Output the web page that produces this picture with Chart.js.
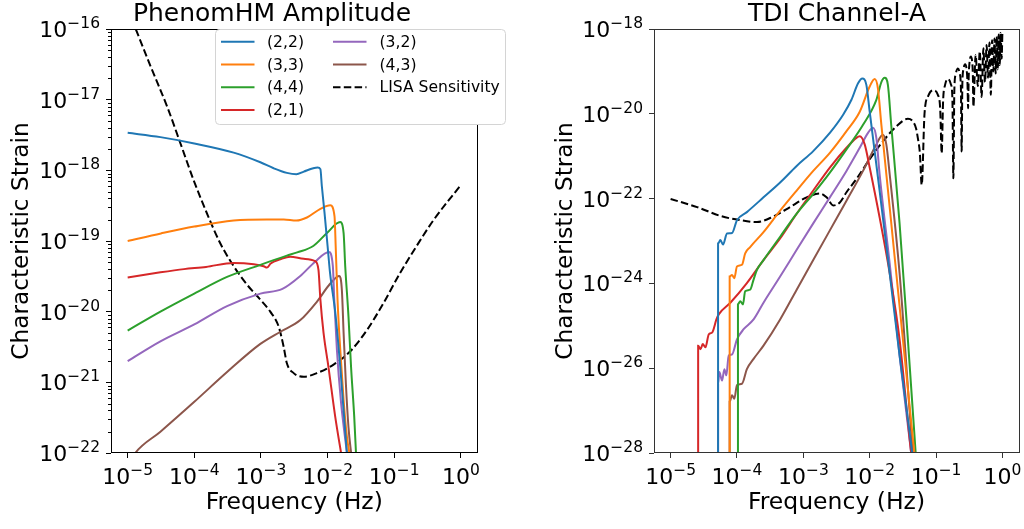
<!DOCTYPE html>
<html>
<head>
<meta charset="utf-8">
<script src="https://cdn.jsdelivr.net/npm/chart.js@4.4.1/dist/chart.umd.min.js"></script>
<style>
  html, body { margin: 0; padding: 0; background: #fff; }
  #wrap { position: relative; width: 1024px; height: 529px; }
  canvas { position: absolute; top: 0; }
</style>
</head>
<body>
<div id="wrap">
  <canvas id="amp" width="512" height="529" style="left:0"></canvas>
  <canvas id="tdi" width="512" height="529" style="left:512px"></canvas>
</div>
<script>
// ---- axis ticks ----
const freqTicks = [1e-5, 1e-4, 1e-3, 1e-2, 1e-1, 1];
const ampStrainTicks = [1e-22, 1e-21, 1e-20, 1e-19, 1e-18, 1e-17, 1e-16];
const tdiStrainTicks = [1e-28, 1e-26, 1e-24, 1e-22, 1e-20, 1e-18];
const minorMults = [2, 3, 4, 5, 6, 7, 8, 9];

const modeLabels = ['(2,2)', '(3,3)', '(4,4)', '(2,1)', '(3,2)', '(4,3)', 'LISA Sensitivity'];
const modeColors = ['#1f77b4', '#ff7f0e', '#2ca02c', '#d62728', '#9467bd', '#8c564b', '#000000'];

// ---- PhenomHM amplitude (left) ----
const ampF22 = [1e-5, 3.1e-5, 1e-4, 3.9e-4, 9.8e-4, 1.55e-3, 2.45e-3, 3.4e-3, 4.4e-3, 5.9e-3, 7.1e-3, 7.8e-3, 8.2e-3, 9.0e-3, 1.0e-2, 1.09e-2, 1.3e-2, 1.55e-2, 1.95e-2, 2.1e-2];
const ampH22 = [3.4e-18, 2.95e-18, 2.4e-18, 1.78e-18, 1.3e-18, 1.07e-18, 9.2e-19, 8.8e-19, 9.6e-19, 1.06e-18, 1.1e-18, 1.04e-18, 6.0e-19, 2.5e-19, 8.5e-20, 3.5e-20, 1.0e-20, 1.66e-21, 1.0e-22, 5e-23];

const ampF33 = [1e-5, 3.16e-5, 1e-4, 3.9e-4, 1.23e-3, 2.2e-3, 3.4e-3, 4.9e-3, 7.8e-3, 1.1e-2, 1.27e-2, 1.33e-2, 1.41e-2, 1.55e-2, 1.74e-2, 1.95e-2, 2.19e-2];
const ampH33 = [1.0e-19, 1.28e-19, 1.6e-19, 1.95e-19, 2.02e-19, 2.02e-19, 1.95e-19, 2.15e-19, 2.85e-19, 3.2e-19, 2.25e-19, 7.4e-20, 1.48e-20, 2.9e-21, 5.6e-22, 1.7e-22, 8.5e-23];

const ampF44 = [1e-5, 3.1e-5, 1e-4, 3.1e-4, 9.8e-4, 2.45e-3, 3.5e-3, 6.1e-3, 9.8e-3, 1.55e-2, 1.74e-2, 1.84e-2, 2.06e-2, 2.25e-2, 2.51e-2, 2.69e-2];
const ampH44 = [5.4e-21, 1.0e-20, 1.8e-20, 3.1e-20, 4.6e-20, 6.2e-20, 6.9e-20, 8.5e-20, 1.3e-19, 1.85e-19, 1.29e-19, 4.4e-20, 8.5e-21, 1.66e-21, 3.3e-22, 8.5e-23];

const ampF21 = [1e-5, 3.1e-5, 7e-5, 1.5e-4, 3.9e-4, 7.8e-4, 1.1e-3, 1.23e-3, 1.4e-3, 1.95e-3, 2.75e-3, 4.4e-3, 6.5e-3, 7.3e-3, 7.8e-3, 8.7e-3, 1.03e-2, 1.3e-2, 1.64e-2];
const ampH21 = [3.05e-20, 3.6e-20, 4.0e-20, 4.3e-20, 4.9e-20, 4.7e-20, 4.4e-20, 4.2e-20, 4.8e-20, 5.5e-20, 6.0e-20, 5.6e-20, 5.2e-20, 3.9e-20, 1.48e-20, 5.0e-21, 1.66e-21, 3.3e-22, 8.5e-23];

const ampF32 = [1e-5, 3.1e-5, 1e-4, 3.1e-4, 9.8e-4, 2.1e-3, 3.9e-3, 6.5e-3, 1.05e-2, 1.2e-2, 1.26e-2, 1.38e-2, 1.58e-2, 1.82e-2, 2.0e-2];
const ampH32 = [2.0e-21, 3.8e-21, 6.6e-21, 1.2e-20, 1.8e-20, 2.1e-20, 3.2e-20, 5.1e-20, 7.0e-20, 4.4e-20, 1.48e-20, 2.9e-21, 5.6e-22, 1.7e-22, 8.5e-23];

const ampF43 = [1e-5, 1.3e-5, 3.1e-5, 1e-4, 3.1e-4, 9.8e-4, 1.95e-3, 3.9e-3, 6.9e-3, 1.1e-2, 1.5e-2, 1.64e-2, 1.74e-2, 1.88e-2, 2.06e-2, 2.3e-2];
const ampH43 = [6.5e-23, 1.0e-22, 2.0e-22, 5.3e-22, 1.4e-21, 3.5e-21, 5.2e-21, 7.6e-21, 1.38e-20, 2.5e-20, 3.2e-20, 2.0e-20, 5.0e-21, 9.8e-22, 2.3e-22, 8.5e-23];

const ampLisaF = [1e-5, 1.32e-5, 2.21e-5, 3.93e-5, 6.2e-5, 9.8e-5, 1.55e-4, 2.45e-4, 3.9e-4, 6.2e-4, 9.8e-4, 1.38e-3, 1.84e-3, 2.19e-3, 2.45e-3, 3.1e-3, 4.4e-3, 6.9e-3, 1.23e-2, 2.19e-2, 3.9e-2, 6.9e-2, 0.122, 0.217, 0.385, 1.0];
const ampLisaH = [1.9e-16, 1.0e-16, 2.95e-17, 7.9e-18, 2.4e-18, 7.2e-19, 2.45e-19, 9.3e-20, 4.4e-20, 2.4e-20, 1.48e-20, 1.0e-20, 6.2e-21, 3.2e-21, 1.86e-21, 1.35e-21, 1.2e-21, 1.35e-21, 1.78e-21, 2.75e-21, 5.5e-21, 1.32e-20, 3.5e-20, 8.5e-20, 1.95e-19, 6.2e-19];

// ---- TDI channel A (right) ----
const tdiF22 = [5.19e-5, 5.19e-5, 5.62e-5, 6.17e-5, 7.08e-5, 8.41e-5, 1e-4, 1.41e-4, 2.51e-4, 4.47e-4, 7.94e-4, 1.41e-3, 2.51e-3, 3.98e-3, 5.31e-3, 6.68e-3, 7.76e-3, 8.91e-3, 1e-2, 1.41e-2, 2.0e-2, 2.82e-2, 3.98e-2, 4.68e-2];
const tdiH22 = [1e-30, 8.7e-24, 1.05e-23, 8.3e-24, 1.51e-23, 1.55e-23, 3.1e-23, 4.8e-23, 1.07e-22, 2.4e-22, 5.9e-22, 1.32e-21, 3.55e-21, 9.5e-21, 2.14e-20, 5.25e-20, 6.8e-20, 4.8e-20, 1.12e-20, 1.55e-22, 1.74e-24, 2.0e-26, 3.2e-28, 4e-29];

const tdiF33 = [7.76e-5, 7.76e-5, 8.41e-5, 9.12e-5, 1e-4, 1.19e-4, 1.33e-4, 1.58e-4, 2.51e-4, 4.47e-4, 7.94e-4, 1.41e-3, 2.51e-3, 4.47e-3, 7.08e-3, 1e-2, 1.19e-2, 1.33e-2, 1.5e-2, 2e-2, 2.82e-2, 3.98e-2, 5.01e-2];
const tdiH33 = [1e-30, 1.45e-24, 1.58e-24, 1.33e-24, 2.5e-24, 2.75e-24, 5.1e-24, 7.2e-24, 1.62e-23, 5.2e-23, 1.55e-22, 4.5e-22, 1.2e-21, 3.9e-21, 1.12e-20, 4.4e-20, 6.6e-20, 4.0e-20, 5.5e-21, 6.3e-23, 2.9e-25, 1.35e-27, 4e-29];

const tdiF44 = [1.035e-4, 1.035e-4, 1.12e-4, 1.23e-4, 1.33e-4, 1.58e-4, 1.78e-4, 2.0e-4, 2.51e-4, 4.47e-4, 7.94e-4, 1.41e-3, 2.51e-3, 4.47e-3, 7.94e-3, 1.26e-2, 1.5e-2, 1.68e-2, 1.88e-2, 2.11e-2, 2.82e-2, 3.76e-2, 5.13e-2];
const tdiH44 = [1e-30, 3.2e-25, 3.8e-25, 3.2e-25, 6.5e-25, 7.1e-25, 1.23e-24, 2.1e-24, 3.55e-24, 1.26e-23, 4.4e-23, 1.29e-22, 4.1e-22, 1.45e-21, 5.5e-21, 2.14e-20, 5.6e-20, 7.1e-20, 4.8e-20, 5.5e-21, 2.6e-23, 4.8e-26, 4e-29];

const tdiF21 = [2.6e-5, 2.6e-5, 2.82e-5, 3.05e-5, 3.35e-5, 3.76e-5, 4.22e-5, 4.9e-5, 5.31e-5, 7.94e-5, 1.41e-4, 2.51e-4, 4.47e-4, 7.94e-4, 1.41e-3, 2.51e-3, 4.47e-3, 6.31e-3, 7.08e-3, 8.41e-3, 1e-2, 1.41e-2, 2e-2, 2.82e-2, 4.22e-2, 4.68e-2];
const tdiH21 = [1e-30, 3.4e-26, 2.8e-26, 3.7e-26, 3.1e-26, 6.3e-26, 6.9e-26, 1.41e-25, 1.86e-25, 3.5e-25, 1.02e-24, 3.55e-24, 1.15e-23, 4.4e-23, 1.55e-22, 5.4e-22, 1.58e-21, 2.7e-21, 2.95e-21, 1.9e-21, 5.4e-22, 3.6e-23, 1.74e-24, 4.8e-26, 1e-28, 3e-29];

const tdiF32 = [5.19e-5, 5.19e-5, 5.43e-5, 5.96e-5, 6.46e-5, 6.92e-5, 7.5e-5, 8.41e-5, 1e-4, 1.26e-4, 1.78e-4, 2.51e-4, 4.47e-4, 7.94e-4, 1.41e-3, 2.51e-3, 4.47e-3, 7.08e-3, 9.44e-3, 1.12e-2, 1.26e-2, 1.41e-2, 2e-2, 2.82e-2, 4.22e-2, 4.68e-2];
const tdiH32 = [1e-30, 4.3e-27, 8.1e-27, 5.1e-27, 9.5e-27, 6.8e-27, 2.0e-26, 2.1e-26, 4.8e-26, 8.3e-26, 1.41e-25, 3.5e-25, 1.45e-24, 6.2e-24, 2.6e-23, 1.07e-22, 4.5e-22, 1.58e-21, 3.55e-21, 4.7e-21, 2.7e-21, 3.8e-22, 2.95e-24, 2.0e-26, 1e-28, 2.5e-29];

const tdiF43 = [7.76e-5, 7.76e-5, 8.41e-5, 9.12e-5, 1e-4, 1.19e-4, 1.41e-4, 1.78e-4, 2.51e-4, 4.47e-4, 7.94e-4, 1.41e-3, 2.51e-3, 4.47e-3, 7.94e-3, 1.26e-2, 1.58e-2, 1.78e-2, 2e-2, 2.82e-2, 4.47e-2, 4.9e-2];
const tdiH43 = [1e-30, 1.62e-27, 2.3e-27, 1.9e-27, 4.0e-27, 4.3e-27, 9.5e-27, 1.66e-26, 3.4e-26, 1.41e-25, 7.1e-25, 3.55e-24, 1.78e-23, 8.9e-23, 4.5e-22, 1.9e-21, 3.2e-21, 1.9e-21, 3.8e-22, 1.74e-24, 1e-28, 2.5e-29];

const tdiLisaF = [1e-5, 2.51e-5, 5.62e-5, 1.12e-4, 2.0e-4, 3.55e-4, 6.31e-4, 1.12e-3, 1.78e-3, 2.24e-3, 2.82e-3, 3.55e-3, 4.47e-3, 6.31e-3, 1e-2, 1.58e-2, 2.51e-2, 3.76e-2, 4.47e-2, 5.0e-2, 5.31e-2, 5.7e-2,
  0.0608, 0.067, 0.076, 0.0912, 0.1065, 0.1155,
  0.1216, 0.1277, 0.1368, 0.152, 0.1672, 0.1763,
  0.1824, 0.1885, 0.1976, 0.213, 0.228, 0.237,
  0.243, 0.249, 0.258, 0.274, 0.289, 0.298,
  0.304, 0.310, 0.319, 0.334, 0.350, 0.359,
  0.365, 0.395, 0.426, 0.456, 0.486, 0.517, 0.547, 0.578, 0.608, 0.638, 0.669, 0.699, 0.730, 0.760, 0.790, 0.821, 0.851, 0.882, 0.912, 0.942, 0.973, 1.0];
const tdiLisaH = [9.8e-23, 6.3e-23, 3.9e-23, 3.1e-23, 2.8e-23, 3.8e-23, 6.3e-23, 1.07e-22, 1.32e-22, 1.07e-22, 6.9e-23, 8.1e-23, 1.41e-22, 2.9e-22, 8.5e-22, 2.24e-21, 5.0e-21, 7.6e-21, 6.6e-21, 4.5e-21, 2.7e-21, 1.2e-21,
  2.1e-22, 1.0e-20, 2.6e-20, 3.6e-20, 2.8e-20, 1.3e-20,
  1.17e-21, 2.0e-20, 4.8e-20, 6.6e-20, 5.0e-20, 2.3e-20,
  3.0e-22, 3.5e-20, 8.5e-20, 1.17e-19, 8.8e-20, 4.0e-20,
  1.29e-21, 5.0e-20, 1.1e-19, 1.48e-19, 1.1e-19, 5.0e-20,
  1.35e-20, 7.0e-20, 1.6e-19, 2.24e-19, 1.7e-19, 7.5e-20,
  1.48e-20, 2.45e-19, 4.5e-20, 3.0e-19, 2.5e-20, 3.5e-19, 5.6e-20, 4.2e-19, 7.1e-20, 4.8e-19, 2.8e-20, 5.4e-19, 1.0e-19, 6.0e-19, 8.9e-20, 6.7e-19, 1.12e-19, 7.4e-19, 1.41e-19, 8.1e-19, 2.0e-19, 8.7e-19];

const FONT = '"DejaVu Sans", sans-serif';

function series(i, xs, ys) {
  const dashed = i === 6;
  return {
    label: modeLabels[i],
    data: xs.map((x, k) => ({ x: x, y: ys[k] })),
    borderColor: modeColors[i],
    borderWidth: 2,
    borderDash: dashed ? [7.5, 3.3] : [],
    pointRadius: 0,
    cubicInterpolationMode: 'monotone',
    fill: false
  };
}

function drawPow(ctx, v, x, baseY, align) {
  const exp = Math.round(Math.log10(v));
  const sup = (exp < 0 ? '\u2212' : '') + Math.abs(exp);
  ctx.font = '22px ' + FONT;
  const w1 = ctx.measureText('10').width;
  ctx.font = '15.5px ' + FONT;
  const w2 = ctx.measureText(sup).width;
  const x0 = align === 'right' ? x - w1 - w2 : x - (w1 + w2) / 2;
  ctx.textAlign = 'left';
  ctx.textBaseline = 'alphabetic';
  ctx.font = '22px ' + FONT;
  ctx.fillText('10', x0, baseY);
  ctx.font = '15.5px ' + FONT;
  ctx.fillText(sup, x0 + w1, baseY - 9);
}

function decor(cfg) {
  return {
    id: 'decor',
    afterDatasetsDraw(chart) {
      const { ctx, chartArea: a, scales } = chart;
      ctx.save();
      ctx.strokeStyle = cfg.spine;
      ctx.lineWidth = 1;
      ctx.strokeRect(Math.floor(a.left) + 0.5, Math.floor(a.top) + 0.5,
        Math.floor(a.right) - Math.floor(a.left), Math.floor(a.bottom) - Math.floor(a.top) - 1);
      if (cfg.minorY) {
        ctx.beginPath();
        cfg.yTicks.slice(0, -1).forEach(t => {
          minorMults.forEach(m => {
            const y = Math.round(scales.y.getPixelForValue(t * m)) + 0.5;
            ctx.moveTo(a.left - 3, y);
            ctx.lineTo(a.left, y);
          });
        });
        ctx.stroke();
      }
      ctx.fillStyle = '#000';
      cfg.yTicks.forEach(t => drawPow(ctx, t, a.left - 11, scales.y.getPixelForValue(t) + 8, 'right'));
      freqTicks.forEach(t => drawPow(ctx, t, scales.x.getPixelForValue(t), a.bottom + 31, 'center'));

      ctx.textAlign = 'center';
      ctx.textBaseline = 'alphabetic';
      ctx.font = '25px ' + FONT;
      ctx.fillText(cfg.title, cfg.titleX, 21);
      ctx.font = '23.5px ' + FONT;
      ctx.fillText('Frequency (Hz)', (a.left + a.right) / 2, 509);
      ctx.font = '23.2px ' + FONT;
      ctx.save();
      ctx.translate(cfg.ylabelX, (a.top + a.bottom) / 2);
      ctx.rotate(-Math.PI / 2);
      ctx.fillText('Characteristic Strain', 0, 0);
      ctx.restore();
      ctx.restore();
    },
    afterDraw(chart) {
      if (!cfg.legend) return;
      const ctx = chart.ctx;
      ctx.save();
      const bx = 215.5, by = 29.5, bw = 290, bh = 95, r = 4;
      ctx.beginPath();
      ctx.moveTo(bx + r, by);
      ctx.arcTo(bx + bw, by, bx + bw, by + bh, r);
      ctx.arcTo(bx + bw, by + bh, bx, by + bh, r);
      ctx.arcTo(bx, by + bh, bx, by, r);
      ctx.arcTo(bx, by, bx + bw, by, r);
      ctx.closePath();
      ctx.fillStyle = '#ffffff';
      ctx.fill();
      ctx.strokeStyle = '#d4d4d4';
      ctx.lineWidth = 1;
      ctx.stroke();
      ctx.font = '15.6px ' + FONT;
      ctx.textAlign = 'left';
      ctx.textBaseline = 'middle';
      chart.data.datasets.forEach((ds, i) => {
        const col = i < 4 ? 0 : 1;
        const row = i < 4 ? i : i - 4;
        const y = 41.7 + row * 22.8;
        const lx = col === 0 ? 221 : 333;
        ctx.beginPath();
        ctx.setLineDash(ds.borderDash || []);
        ctx.strokeStyle = ds.borderColor;
        ctx.lineWidth = 2;
        ctx.moveTo(lx, y);
        ctx.lineTo(lx + 33.5, y);
        ctx.stroke();
        ctx.setLineDash([]);
        ctx.fillStyle = '#000';
        ctx.fillText(ds.label, col === 0 ? 267 : 379.5, y + 1);
      });
      ctx.restore();
    }
  };
}

function makeChart(id, datasets, cfg) {
  return new Chart(document.getElementById(id), {
    type: 'line',
    data: { datasets: datasets },
    options: {
      responsive: false,
      animation: false,
      layout: { padding: { left: 0, right: cfg.padRight, top: 29, bottom: 0 } },
      plugins: { legend: { display: false }, tooltip: { enabled: false } },
      scales: {
        x: {
          type: 'logarithmic', position: 'bottom', min: 5.62e-6, max: 1.778, bounds: 'data',
          afterBuildTicks: s => { s.ticks = freqTicks.map(v => ({ value: v })); },
          afterFit: s => { s.height = 76; },
          ticks: { display: false },
          grid: { drawOnChartArea: false, drawTicks: true, tickLength: 5, tickColor: cfg.spine, tickWidth: 1 },
          border: { display: false }
        },
        y: {
          type: 'logarithmic', position: 'left', min: cfg.yTicks[0], max: cfg.yTicks[cfg.yTicks.length - 1], bounds: 'data',
          afterBuildTicks: s => { s.ticks = cfg.yTicks.map(v => ({ value: v })); },
          afterFit: s => { s.width = cfg.left; },
          ticks: { display: false },
          grid: { drawOnChartArea: false, drawTicks: true, tickLength: 5, tickColor: cfg.spine, tickWidth: 1 },
          border: { display: false }
        }
      }
    },
    plugins: [decor(cfg)]
  });
}

makeChart('amp', [
  series(0, ampF22, ampH22),
  series(1, ampF33, ampH33),
  series(2, ampF44, ampH44),
  series(3, ampF21, ampH21),
  series(4, ampF32, ampH32),
  series(5, ampF43, ampH43),
  series(6, ampLisaF, ampLisaH)
], { title: 'PhenomHM Amplitude', titleX: 272, ylabelX: 28, yTicks: ampStrainTicks, minorY: true,
     legend: true, left: 111, padRight: 34.5, spine: '#000' });

makeChart('tdi', [
  series(0, tdiF22, tdiH22),
  series(1, tdiF33, tdiH33),
  series(2, tdiF44, tdiH44),
  series(3, tdiF21, tdiH21),
  series(4, tdiF32, tdiH32),
  series(5, tdiF43, tdiH43),
  series(6, tdiLisaF, tdiLisaH)
], { title: 'TDI Channel-A', titleX: 325, ylabelX: 60, yTicks: tdiStrainTicks, minorY: false,
     legend: false, left: 142, padRight: 5, spine: '#333' });
</script>
</body>
</html>
